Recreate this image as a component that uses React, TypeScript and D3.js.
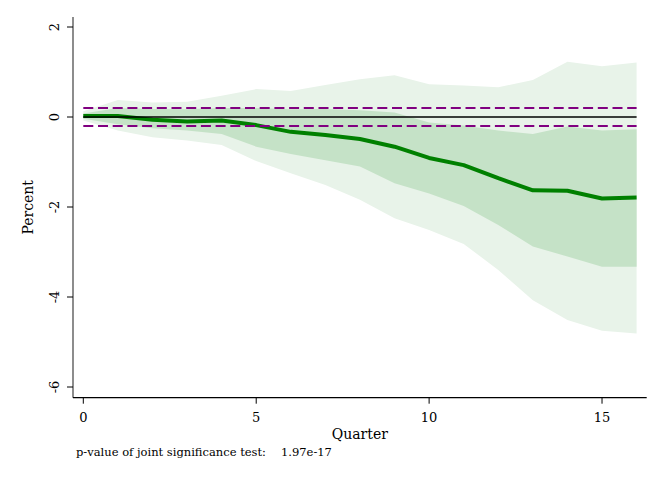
import React from "react";
import * as d3 from "d3";

// quarters after the shock
const quarters = [0, 1, 2, 3, 4, 5, 6, 7, 8, 9, 10, 11, 12, 13, 14, 15, 16];

// point estimate (percent)
const estimate = [0.02, 0.02, -0.06, -0.1, -0.08, -0.18, -0.33, -0.4, -0.49, -0.66, -0.91, -1.07, -1.36, -1.63, -1.64, -1.81, -1.79];

// inner band (dark)
const innerHi = [0.08, 0.2, 0.18, 0.17, 0.2, 0.2, 0.17, 0.18, 0.15, 0.1, -0.12, -0.19, -0.3, -0.38, -0.21, -0.3, -0.27];
const innerLo = [-0.04, -0.16, -0.25, -0.3, -0.38, -0.66, -0.82, -0.96, -1.1, -1.47, -1.7, -1.98, -2.4, -2.88, -3.1, -3.33, -3.33];

// outer band (light)
const outerHi = [0.13, 0.38, 0.32, 0.34, 0.47, 0.62, 0.58, 0.71, 0.84, 0.93, 0.73, 0.7, 0.66, 0.82, 1.23, 1.13, 1.21];
const outerLo = [-0.08, -0.3, -0.45, -0.52, -0.62, -0.98, -1.25, -1.51, -1.84, -2.25, -2.51, -2.82, -3.4, -4.07, -4.51, -4.75, -4.81];

// reference lines
const threshold = [0.2, -0.2];

const xTicks = [0, 5, 10, 15];
const yTicks = [2, 0, -2, -4, -6];

const pLabel = "p-value of joint significance test:";
const pValue = "1.97e-17";

const font = "'DejaVu Serif', serif";

const App = () => {
  const width = 664;
  const height = 483;

  const x = d3.scaleLinear().domain([0, 16]).range([83.3, 636.6]);
  const y = d3.scaleLinear().domain([2, -6]).range([27, 387]);

  const axisLeft = 73;
  const axisBottom = 397.7;
  const axisTop = 17;
  const axisRight = 646.7;

  const band = (hi: number[], lo: number[]) =>
    d3
      .area<number>()
      .x((d) => x(d))
      .y0((_, i) => y(lo[i]))
      .y1((_, i) => y(hi[i]))(quarters) || "";

  const line = d3
    .line<number>()
    .x((d) => x(d))
    .y((_, i) => y(estimate[i]))(quarters) || "";

  const x0 = x(quarters[0]);
  const x1 = x(quarters[quarters.length - 1]);

  return (
    <svg
      width={width}
      height={height}
      style={{ position: "absolute", left: 0, top: 0, background: "#fff" }}
    >
      <path d={band(outerHi, outerLo)} fill="#e8f3e9" />
      <path d={band(innerHi, innerLo)} fill="#c5e2c7" />
      <path d={line} fill="none" stroke="#008000" strokeWidth={4} strokeLinejoin="round" />
      <line x1={x0} x2={x1} y1={y(0)} y2={y(0)} stroke="#000" strokeWidth={1.6} />
      {threshold.map((t) => (
        <line
          key={t}
          x1={x0}
          x2={x1}
          y1={y(t)}
          y2={y(t)}
          stroke="#800080"
          strokeWidth={2}
          strokeDasharray="10 4.7"
        />
      ))}

      {/* y axis */}
      <line x1={axisLeft} x2={axisLeft} y1={axisTop} y2={axisBottom} stroke="#707070" strokeWidth={1.6} />
      {yTicks.map((t) => (
        <g key={t} transform={`translate(${axisLeft},${y(t)})`}>
          <line x1={-6} x2={0} stroke="#000" strokeWidth={1} />
          <text
            transform="translate(-14,0) rotate(-90)"
            textAnchor="middle"
            fontFamily={font}
            fontSize={13}
            fill="#000"
          >
            {t}
          </text>
        </g>
      ))}
      <text
        transform={`translate(33,${(axisTop + axisBottom) / 2}) rotate(-90)`}
        textAnchor="middle"
        fontFamily={font}
        fontSize={14}
      >
        Percent
      </text>

      {/* x axis */}
      <line x1={axisLeft} x2={axisRight} y1={axisBottom} y2={axisBottom} stroke="#000" strokeWidth={1.3} />
      {xTicks.map((t) => (
        <g key={t} transform={`translate(${x(t)},${axisBottom})`}>
          <line y1={0} y2={6} stroke="#000" strokeWidth={1} />
          <text y={24} textAnchor="middle" fontFamily={font} fontSize={13}>
            {t}
          </text>
        </g>
      ))}
      <text x={(axisLeft + axisRight) / 2} y={439} textAnchor="middle" fontFamily={font} fontSize={14}>
        Quarter
      </text>

      <text x={76} y={456} fontFamily={font} fontSize={11.5}>
        {pLabel}
      </text>
      <text x={281} y={456} fontFamily={font} fontSize={11.5}>
        {pValue}
      </text>
    </svg>
  );
};

export default App;
